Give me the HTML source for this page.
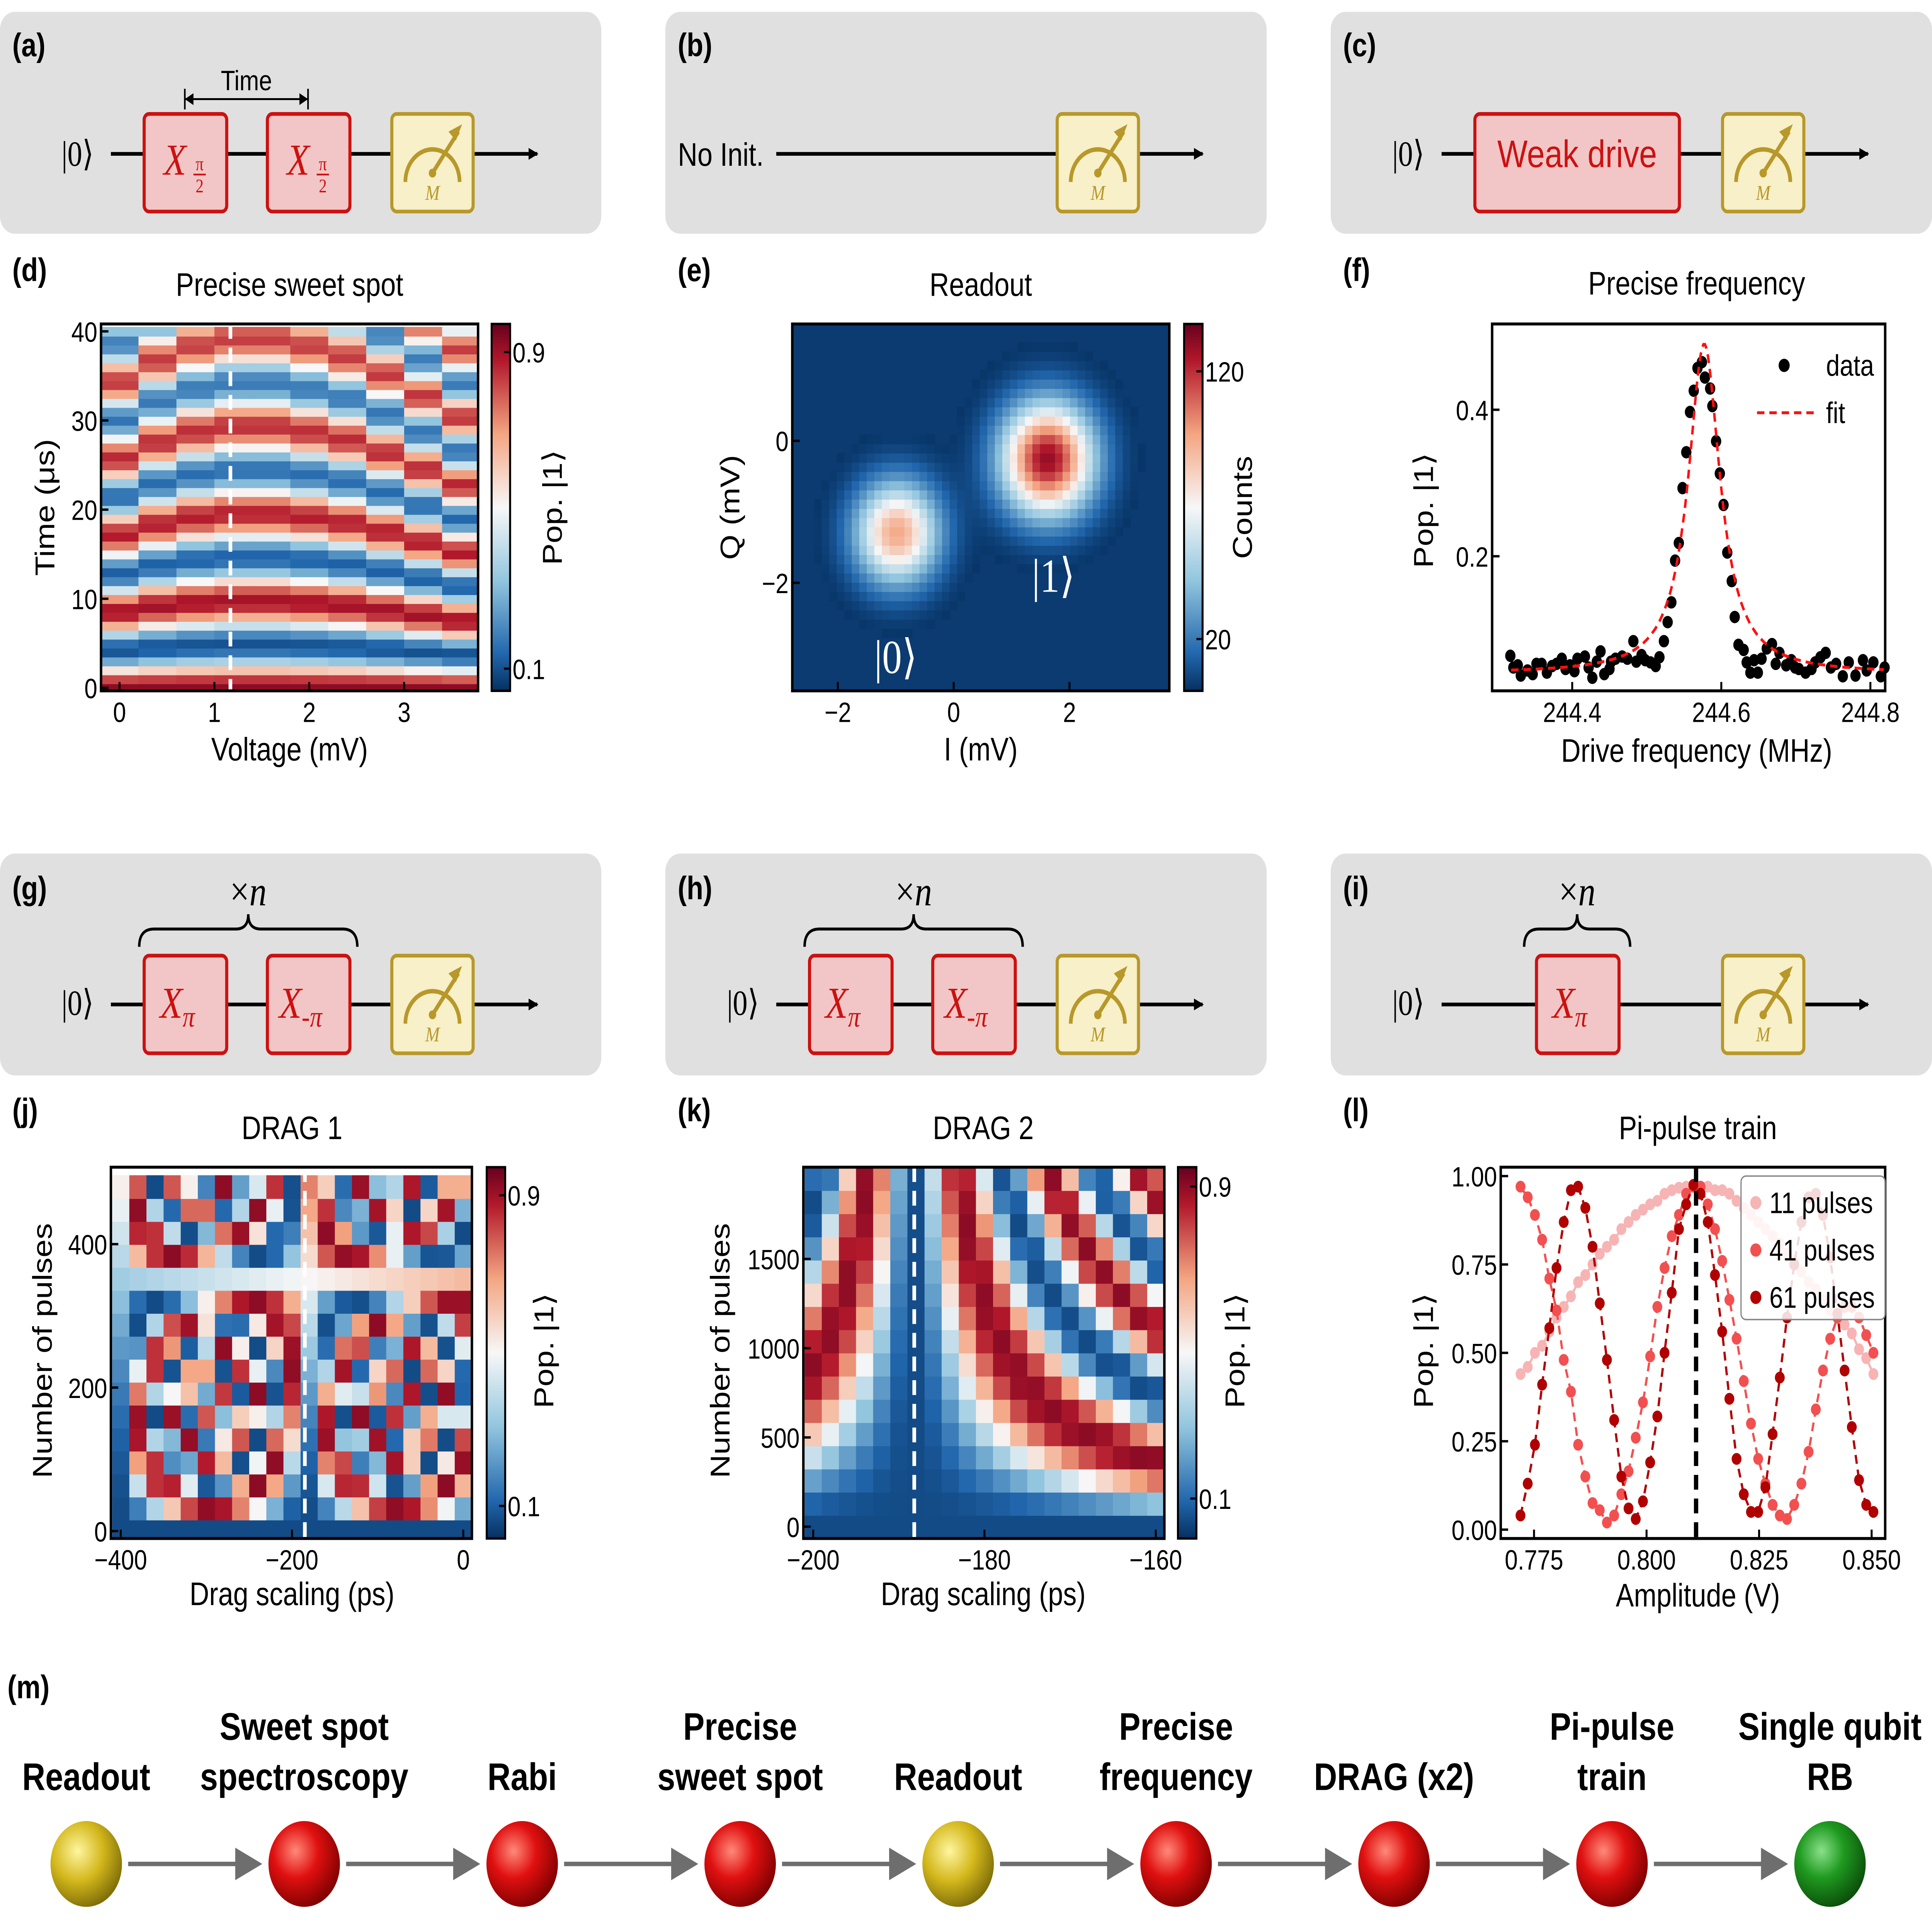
<!DOCTYPE html>
<html><head><meta charset="utf-8"><style>
html,body{margin:0;padding:0;background:#fff;overflow:hidden;width:100vw;height:100vh;}
svg#fig{display:block;width:100vw;height:100vh;}
text{font-family:"Liberation Sans","DejaVu Sans",sans-serif;}
.serif{font-family:"Liberation Serif","DejaVu Serif",serif;}
</style></head><body>
<svg id="fig" xmlns="http://www.w3.org/2000/svg" viewBox="0 0 1568 1306" preserveAspectRatio="none">
<defs>
<radialGradient id="gY" cx="0.38" cy="0.35" r="0.7"><stop offset="0" stop-color="#fff6a0"/><stop offset="0.5" stop-color="#d4b81c"/><stop offset="1" stop-color="#7a6a08"/></radialGradient>
<radialGradient id="gR" cx="0.38" cy="0.35" r="0.7"><stop offset="0" stop-color="#ff8a7a"/><stop offset="0.45" stop-color="#e01010"/><stop offset="1" stop-color="#7a0000"/></radialGradient>
<radialGradient id="gG" cx="0.38" cy="0.35" r="0.7"><stop offset="0" stop-color="#8ae08a"/><stop offset="0.45" stop-color="#1f9a1f"/><stop offset="1" stop-color="#0a4a0a"/></radialGradient>
<linearGradient id="cbRB" x1="0" y1="1" x2="0" y2="0">
<stop offset="0" stop-color="#053061"/><stop offset="0.1" stop-color="#2166ac"/><stop offset="0.3" stop-color="#92c5de"/><stop offset="0.5" stop-color="#f7f7f7"/><stop offset="0.7" stop-color="#f4a582"/><stop offset="0.9" stop-color="#b2182b"/><stop offset="1" stop-color="#67001f"/></linearGradient>
<marker id="arrK" markerWidth="8" markerHeight="8" refX="7" refY="4" orient="auto" markerUnits="userSpaceOnUse"><path d="M0,0 L8,4 L0,8 z" fill="#000"/></marker>
<clipPath id="clipD"><rect x="82" y="219" width="306" height="248"/></clipPath>
<clipPath id="clipE"><rect x="643" y="219" width="306" height="248"/></clipPath>
<clipPath id="clipJ"><rect x="90" y="789" width="293" height="251"/></clipPath>
<clipPath id="clipK"><rect x="652" y="789" width="293" height="251"/></clipPath>
</defs>

<rect x="0" y="8" width="488" height="150" rx="12" fill="#e0e0e0"/>
<rect x="540" y="8" width="488" height="150" rx="12" fill="#e0e0e0"/>
<rect x="1080" y="8" width="488" height="150" rx="12" fill="#e0e0e0"/>
<rect x="0" y="577" width="488" height="150" rx="12" fill="#e0e0e0"/>
<rect x="540" y="577" width="488" height="150" rx="12" fill="#e0e0e0"/>
<rect x="1080" y="577" width="488" height="150" rx="12" fill="#e0e0e0"/>

<g font-weight="bold" font-size="22" fill="#000">
<text x="10" y="38">(a)</text>
<text x="550" y="38">(b)</text>
<text x="1090" y="38">(c)</text>
<text x="10" y="190">(d)</text>
<text x="550" y="190">(e)</text>
<text x="1090" y="190">(f)</text>
<text x="10" y="608">(g)</text>
<text x="550" y="608">(h)</text>
<text x="1090" y="608">(i)</text>
<text x="10" y="758">(j)</text>
<text x="550" y="758">(k)</text>
<text x="1090" y="758">(l)</text>
<text x="6" y="1148">(m)</text>
</g>

<g id="circuits"></g>

<g font-size="22" text-anchor="middle" fill="#000">
<text x="235" y="200">Precise sweet spot</text>
<text x="796" y="200">Readout</text>
<text x="1377" y="199">Precise frequency</text>
<text x="237" y="770">DRAG 1</text>
<text x="798" y="770">DRAG 2</text>
<text x="1378" y="770">Pi-pulse train</text>
<text x="235" y="514">Voltage (mV)</text>
<text x="796" y="514">I (mV)</text>
<text x="1377" y="515">Drive frequency (MHz)</text>
<text x="237" y="1085">Drag scaling (ps)</text>
<text x="798" y="1085">Drag scaling (ps)</text>
<text x="1378" y="1086">Amplitude (V)</text>
<text transform="translate(44,343) rotate(-90)">Time (μs)</text>
<text transform="translate(600,343) rotate(-90)">Q (mV)</text>
<text transform="translate(1163,345) rotate(-90)">Pop. |1⟩</text>
<text transform="translate(456,343) rotate(-90)">Pop. |1⟩</text>
<text transform="translate(1016,343) rotate(-90)">Counts</text>
<text transform="translate(42,913) rotate(-90)">Number of pulses</text>
<text transform="translate(449,913) rotate(-90)">Pop. |1⟩</text>
<text transform="translate(592,913) rotate(-90)">Number of pulses</text>
<text transform="translate(1010,913) rotate(-90)">Pop. |1⟩</text>
<text transform="translate(1163,913) rotate(-90)">Pop. |1⟩</text>
</g>

<g id="plots"></g>

<g id="workflow"></g>
</svg>

<script>
const NS='http://www.w3.org/2000/svg';
function mk(tag,attrs,parent){const e=document.createElementNS(NS,tag);for(const k in attrs)e.setAttribute(k,attrs[k]);parent.appendChild(e);return e;}
function lin(d0,d1,p0,p1){return v=>p0+(v-d0)*(p1-p0)/(d1-d0);}
const stops=[[0,[5,48,97]],[0.1,[33,102,172]],[0.3,[146,197,222]],[0.5,[247,247,247]],[0.7,[244,165,130]],[0.9,[178,24,43]],[1,[103,0,31]]];
function cmap(v){v=Math.max(0,Math.min(1,v));for(let i=1;i<stops.length;i++){if(v<=stops[i][0]){const a=stops[i-1],b=stops[i];const t=(v-a[0])/(b[0]-a[0]);const c=a[1].map((x,j)=>Math.round(x+(b[1][j]-x)*t));return 'rgb('+c.join(',')+')';}}return 'rgb(103,0,31)';}

// ===== DATA =====
const dVolt=[0,0.4,0.8,1.2,1.6,2.0,2.4,2.8,3.2,3.6];
const dTime=[0,1,2,3,4,5,6,7,8,9,10,11,12,13,14,15,16,17,18,19,20,21,22,23,24,25,26,27,28,29,30,31,32,33,34,35,36,37,38,39,40];
const dPeriod=[8.6,9.2,9.6,9.8,9.8,9.6,9.3,8.8,8.2,7.6];
const dXTicks=[0,1,2,3];
const dYTicks=[0,10,20,30,40];
const eCenterI=[-0.98,1.62];
const eCenterQ=[-1.29,-0.25];
const ePeak=[95,130];
const eSigma=[0.5,0.55];
const eXTicks=[-2,0,2];
const eYTicks=[0,-2];
const fFreq=[244.317,244.321,244.327,244.331,244.340,244.347,244.352,244.359,244.366,244.373,244.379,244.386,244.391,244.397,244.403,244.407,244.417,244.422,244.427,244.433,244.438,244.443,244.450,244.452,244.458,244.467,244.474,244.482,244.486,244.493,244.498,244.505,244.512,244.517,244.523,244.528,244.533,244.538,244.543,244.548,244.553,244.558,244.563,244.568,244.574,244.578,244.585,244.588,244.593,244.598,244.603,244.608,244.614,244.618,244.623,244.630,244.634,244.639,244.644,244.649,244.654,244.661,244.668,244.673,244.678,244.687,244.694,244.699,244.704,244.713,244.721,244.726,244.733,244.740,244.747,244.754,244.763,244.771,244.780,244.790,244.795,244.804,244.814,244.819];
const fPop=[0.064,0.048,0.051,0.037,0.044,0.039,0.053,0.053,0.041,0.050,0.053,0.060,0.046,0.051,0.043,0.060,0.063,0.048,0.034,0.056,0.070,0.039,0.046,0.056,0.060,0.063,0.060,0.084,0.056,0.065,0.058,0.055,0.050,0.062,0.084,0.110,0.137,0.194,0.218,0.293,0.342,0.397,0.426,0.457,0.465,0.444,0.429,0.405,0.357,0.313,0.270,0.205,0.166,0.117,0.079,0.072,0.055,0.041,0.058,0.041,0.060,0.074,0.080,0.053,0.068,0.051,0.058,0.048,0.046,0.041,0.046,0.055,0.062,0.068,0.048,0.053,0.036,0.055,0.037,0.058,0.044,0.055,0.036,0.048];
const fFitCenter=[244.577];
const fFitAmp=[0.45];
const fFitWidth=[0.026];
const fFitBase=[0.04];
const fXTicks=[244.4,244.6,244.8];
const fYTicks=[0.2,0.4];
const jDrag=[-400,-380,-360,-340,-320,-300,-280,-260,-240,-220,-200,-180,-160,-140,-120,-100,-80,-60,-40,-20,0];
const jPulses=[0,32,64,96,128,160,192,224,256,288,320,352,384,416,448,480];
const jOptimum=[-185];
const jPeriod=[7000];
const jXTicks=[-400,-200,0];
const jYTicks=[0,200,400];
const kDrag=[-200,-198,-196,-194,-192,-190,-188,-186,-184,-182,-180,-178,-176,-174,-172,-170,-168,-166,-164,-162,-160];
const kPulses=[0,130,260,390,520,650,780,910,1040,1170,1300,1430,1560,1690,1820,1950];
const kOptimum=[-188.3];
const kPeriod=[21000];
const kXTicks=[-200,-180,-160];
const kYTicks=[0,500,1000,1500];
const lAmpStart=0.772, lAmpStep=0.0016;
const l11=[0.44,0.46,0.50,0.52,0.56,0.60,0.63,0.66,0.70,0.72,0.75,0.78,0.80,0.82,0.85,0.87,0.89,0.905,0.92,0.93,0.95,0.96,0.967,0.97,0.975,0.97,0.97,0.96,0.96,0.95,0.93,0.91,0.89,0.87,0.85,0.83,0.81,0.78,0.76,0.73,0.70,0.68,0.65,0.62,0.60,0.58,0.555,0.51,0.485,0.44];
const l41=[0.97,0.94,0.89,0.82,0.71,0.62,0.48,0.39,0.24,0.15,0.075,0.055,0.02,0.04,0.10,0.165,0.26,0.36,0.49,0.63,0.74,0.83,0.89,0.95,0.97,0.97,0.92,0.85,0.76,0.65,0.54,0.42,0.30,0.20,0.13,0.07,0.04,0.03,0.07,0.13,0.22,0.34,0.45,0.54,0.60,0.63,0.63,0.60,0.55,0.50];
const l61=[0.04,0.13,0.24,0.41,0.57,0.74,0.87,0.96,0.97,0.91,0.80,0.64,0.48,0.31,0.15,0.06,0.03,0.08,0.19,0.32,0.50,0.67,0.85,0.92,0.975,0.95,0.87,0.72,0.56,0.37,0.20,0.10,0.05,0.05,0.12,0.27,0.43,0.60,0.75,0.87,0.94,0.95,0.89,0.77,0.61,0.45,0.29,0.14,0.07,0.05];
const lOptimum=[0.811];
const lXTicks=[0.775,0.800,0.825,0.850];
const lYTicks=[0,0.25,0.5,0.75,1.0];
const lLabels=['11 pulses','41 pulses','61 pulses'];
const lColors=['#f7b4b4','#f25050','#b00000'];
const wSteps=[['Readout'],['Sweet spot','spectroscopy'],['Rabi'],['Precise','sweet spot'],['Readout'],['Precise','frequency'],['DRAG (x2)'],['Pi-pulse','train'],['Single qubit','RB']];
const wColors=['gY','gR','gR','gR','gY','gR','gR','gR','gG'];

const plots=document.getElementById('plots');

function frame(x0,y0,x1,y1,name){
  const r=mk('rect',{x:x0,y:y0,width:x1-x0,height:y1-y0,fill:'none',stroke:'#000','stroke-width':2},plots);
  
  
}
function xticks(vals,sx,yb,fmt,name){
  vals.forEach(v=>{const x=sx(v);
    const l=mk('line',{x1:x,x2:x,y1:yb,y2:yb-6,stroke:'#000','stroke-width':1.6},plots);
    
    
    const t=mk('text',{x:x,y:yb+21,'font-size':19,'text-anchor':'middle'},plots);
    t.textContent=fmt(v);
    
    });
}
function yticks(vals,sy,xl,fmt,name){
  vals.forEach(v=>{const y=sy(v);
    const l=mk('line',{x1:xl,x2:xl+6,y1:y,y2:y,stroke:'#000','stroke-width':1.6},plots);
    
    
    const t=mk('text',{x:xl-3,y:y+7,'font-size':19,'text-anchor':'end'},plots);
    t.textContent=fmt(v);
    
    });
}
function colorbar(x,y0,y1,ticks,name){
  const r=mk('rect',{x:x,y:y0,width:15,height:y1-y0,fill:'url(#cbRB)',stroke:'#000','stroke-width':1.6},plots);
  
  
  ticks.forEach(tk=>{
    const l=mk('line',{x1:x+15,x2:x+10,y1:tk[0],y2:tk[0],stroke:'#000','stroke-width':1.5},plots);
    
    
    const t=mk('text',{x:x+17,y:tk[0]+7,'font-size':19},plots);
    t.textContent=tk[1];
    
    });
}

// (d)
(function(){
  const sx=lin(0,1,97,174), sy=lin(0,40,465,224);
  const g=mk('g',{'clip-path':'url(#clipD)'},plots);
  dVolt.forEach((v,ci)=>{dTime.forEach(t=>{
    const val=0.5+0.45*Math.cos(2*Math.PI*t/dPeriod[ci])*Math.exp(-t/150);
    const c=mk('rect',{x:sx(v-0.2),y:sy(t+0.5),width:sx(v+0.2)-sx(v-0.2)+0.5,height:sy(t-0.5)-sy(t+0.5)+0.5,fill:cmap(val)},g);
    
    });});
  const dl=mk('line',{x1:187,x2:187,y1:219,y2:467,stroke:'#fff','stroke-width':3,'stroke-dasharray':'10,6'},plots);
  
  
  frame(82,219,388,467,'axes-d');
  xticks(dXTicks,sx,467,v=>String(v),'x-axis-d');
  yticks(dYTicks,sy,82,v=>String(v),'y-axis-d');
  colorbar(399,219,467,[[238,'0.9'],[452,'0.1']],'colorbar-d');
})();

// (e)
(function(){
  const sx=lin(0,2,774,868), sy=lin(0,-2,298,394);
  const g=mk('g',{'clip-path':'url(#clipE)'},plots);
  const bg=mk('rect',{x:643,y:219,width:306,height:248,fill:cmap(0.02)},g);
  
  
  const step=0.13, cmax=138;
  for(let I=-2.8;I<3.75;I+=step){for(let Q=-3.55;Q<1.7;Q+=step){
    let cnt=0;for(let b=0;b<2;b++){const di=I+step/2-eCenterI[b],dq=Q+step/2-eCenterQ[b];cnt+=ePeak[b]*Math.exp(-(di*di+dq*dq)/(2*eSigma[b]*eSigma[b]));}
    if(cnt<1.5)continue;
    const c=mk('rect',{x:sx(I),y:sy(Q+step),width:sx(I+step)-sx(I)+0.4,height:sy(Q)-sy(Q+step)+0.4,fill:cmap(cnt/cmax)},g);
    
    }}
  frame(643,219,949,467,'axes-e');
  xticks(eXTicks,sx,467,v=>v<0?'−'+Math.abs(v):String(v),'x-axis-e');
  yticks(eYTicks,sy,643,v=>v<0?'−'+Math.abs(v):String(v),'y-axis-e');
  colorbar(961,219,467,[[251,'120'],[432,'20']],'colorbar-e');
  const t0=mk('text',{x:727,y:455,'font-size':32,'text-anchor':'middle',fill:'#fff',class:'serif'},plots);
  t0.textContent='|0⟩';
  
  
  const t1=mk('text',{x:855,y:400,'font-size':32,'text-anchor':'middle',fill:'#fff',class:'serif'},plots);
  t1.textContent='|1⟩';
  
  
})();

// (f)
(function(){
  const sx=lin(244.4,244.6,1276,1397), sy=lin(0.2,0.4,376,277);
  frame(1211,219,1530,467,'axes-f');
  fFreq.forEach((f,i)=>{const c=mk('circle',{cx:sx(f),cy:sy(fPop[i]),r:4.2,fill:'#000'},plots);
    
    });
  let d='';for(let f=244.318;f<=244.82;f+=0.002){const p=fFitBase[0]+fFitAmp[0]/(1+Math.pow((f-fFitCenter[0])/fFitWidth[0],2));d+=(d?'L':'M')+sx(f).toFixed(1)+','+sy(p).toFixed(1);}
  const fit=mk('path',{d:d,fill:'none',stroke:'#ff1010','stroke-width':2,'stroke-dasharray':'6,4'},plots);
  
  
  xticks(fXTicks,sx,467,v=>v.toFixed(1),'x-axis-f');
  yticks(fYTicks,sy,1211,v=>v.toFixed(1),'y-axis-f');
  const ld=mk('circle',{cx:1448,cy:247,r:4.5,fill:'#000'},plots);
  
  
  const lt=mk('text',{x:1482,y:254,'font-size':20},plots);lt.textContent='data';
  
  
  const lf=mk('line',{x1:1426,x2:1472,y1:279,y2:279,stroke:'#ff1010','stroke-width':2,'stroke-dasharray':'6,4'},plots);
  
  
  const lft=mk('text',{x:1482,y:286,'font-size':20},plots);lft.textContent='fit';
  
  
})();

// (j)
(function(){
  const sx=lin(-400,0,98,376), sy=lin(0,400,1035,841);
  const g=mk('g',{'clip-path':'url(#clipJ)'},plots);
  jDrag.forEach(x=>{jPulses.forEach(n=>{
    const val=0.5-0.45*Math.cos(2*Math.PI*n*(x-jOptimum[0])/jPeriod[0]);
    const c=mk('rect',{x:sx(x-10),y:sy(n+16),width:sx(x+10)-sx(x-10)+0.5,height:sy(n-16)-sy(n+16)+0.5,fill:cmap(val)},g);
    
    });});
  const dl=mk('line',{x1:sx(jOptimum[0]),x2:sx(jOptimum[0]),y1:789,y2:1040,stroke:'#fff','stroke-width':3,'stroke-dasharray':'10,6'},plots);
  
  
  frame(90,789,383,1040,'axes-j');
  xticks(jXTicks,sx,1040,v=>v<0?'−'+Math.abs(v):String(v),'x-axis-j');
  yticks(jYTicks,sy,90,v=>String(v),'y-axis-j');
  colorbar(395,789,1040,[[808,'0.9'],[1018,'0.1']],'colorbar-j');
})();

// (k)
(function(){
  const sx=lin(-200,-160,660,938), sy=lin(0,1500,1032,851);
  const g=mk('g',{'clip-path':'url(#clipK)'},plots);
  kDrag.forEach(x=>{kPulses.forEach(n=>{
    const val=0.5-0.45*Math.cos(2*Math.PI*n*(x-kOptimum[0])/kPeriod[0]);
    const c=mk('rect',{x:sx(x-1),y:sy(n+65),width:sx(x+1)-sx(x-1)+0.5,height:sy(n-65)-sy(n+65)+0.5,fill:cmap(val)},g);
    
    });});
  const dl=mk('line',{x1:742,x2:742,y1:789,y2:1040,stroke:'#fff','stroke-width':3,'stroke-dasharray':'10,6'},plots);
  
  
  frame(652,789,945,1040,'axes-k');
  xticks(kXTicks,sx,1040,v=>'−'+Math.abs(v),'x-axis-k');
  yticks(kYTicks,sy,652,v=>String(v),'y-axis-k');
  colorbar(956,789,1040,[[802,'0.9'],[1013,'0.1']],'colorbar-k');
})();

// (l)
(function(){
  const sx=lin(0.775,0.850,1245,1519), sy=lin(0,1,1034,795);
  frame(1218,789,1530,1040,'axes-l');
  [l11,l41,l61].forEach((ser,si)=>{
    let d='';ser.forEach((v,i)=>{const a=lAmpStart+i*lAmpStep;d+=(i?'L':'M')+sx(a).toFixed(1)+','+sy(v).toFixed(1);});
    const p=mk('path',{d:d,fill:'none',stroke:lColors[si],'stroke-width':1.8,'stroke-dasharray':si==0?'none':'6,4'},plots);
    
    
    ser.forEach((v,i)=>{const a=lAmpStart+i*lAmpStep;
      const c=mk('circle',{cx:sx(a),cy:sy(v),r:4,fill:lColors[si]},plots);
      
      });
  });
  const dl=mk('line',{x1:sx(lOptimum[0]),x2:sx(lOptimum[0]),y1:789,y2:1040,stroke:'#000','stroke-width':3.5,'stroke-dasharray':'10,6'},plots);
  
  
  xticks(lXTicks,sx,1040,v=>v.toFixed(3),'x-axis-l');
  yticks(lYTicks,sy,1218,v=>v.toFixed(2),'y-axis-l');
  const lb=mk('rect',{x:1413,y:795,width:117,height:97,rx:4,fill:'#fff','fill-opacity':0.85,stroke:'#888','stroke-width':1},plots);
  
  
  lLabels.forEach((lab,i)=>{const y=813+i*32;
    const m=mk('circle',{cx:1425,cy:y,r:4.5,fill:lColors[i]},plots);
    
    
    const t=mk('text',{x:1436,y:y+7,'font-size':20},plots);t.textContent=lab;
    
    });
})();

// circuits
(function(){
  const C=document.getElementById('circuits');
  function line(x1,x2,y,arrow,name){const l=mk('line',{x1:x1,x2:x2,y1:y,y2:y,stroke:'#000','stroke-width':2.5},C);
    if(arrow)l.setAttribute('marker-end','url(#arrK)');
    
    }
  function ket(x,y,name){const t=mk('text',{x:x,y:y,'font-size':24,'text-anchor':'middle',class:'serif'},C);t.textContent='|0⟩';
    
    }
  function gate(x,w,y,name){const r=mk('rect',{x:x,y:y,width:w,height:66,rx:4,fill:'#f2c6c6',stroke:'#cc1111','stroke-width':2.5},C);
    
    }
  function gtext(cx,y,sub,name){const t=mk('text',{x:cx-6,y:y,'font-size':30,'text-anchor':'middle',fill:'#cc1111',class:'serif','font-style':'italic'},C);
    t.textContent='X';
    const s=mk('tspan',{'font-size':20,dy:6},t);s.textContent=sub;
    
    }
  function gtextHalf(cx,y,name){const g=mk('g',{fill:'#cc1111'},C);
    
    
    const t=mk('text',{x:cx-8,y:y,'font-size':30,'text-anchor':'middle',class:'serif','font-style':'italic'},g);t.textContent='X';
    const a=mk('text',{x:cx+12,y:y-3,'font-size':13,'text-anchor':'middle',class:'serif'},g);a.textContent='π';
    mk('line',{x1:cx+7,x2:cx+17,y1:y,y2:y,stroke:'#cc1111','stroke-width':1.2},g);
    const b=mk('text',{x:cx+12,y:y+12,'font-size':13,'text-anchor':'middle',class:'serif'},g);b.textContent='2';}
  function meter(x,y,name){const g=mk('g',{},C);
    
    
    mk('rect',{x:x,y:y,width:66,height:66,rx:4,fill:'#f7f0c8',stroke:'#b8982a','stroke-width':2.5},g);
    mk('path',{d:'M'+(x+11)+','+(y+46)+' A22,22 0 0 1 '+(x+55)+','+(y+46),fill:'none',stroke:'#b8982a','stroke-width':3},g);
    mk('line',{x1:x+33,y1:y+40,x2:x+54,y2:y+12,stroke:'#b8982a','stroke-width':3},g);
    mk('path',{d:'M'+(x+57)+','+(y+7)+' l-11,5 l6,6 z',fill:'#b8982a'},g);
    mk('circle',{cx:x+33,cy:y+40,r:3,fill:'#b8982a'},g);
    const t=mk('text',{x:x+33,y:y+58,'font-size':14,'text-anchor':'middle',fill:'#b8982a',class:'serif','font-style':'italic'},g);t.textContent='M';}
  function brace(x1,x2,y,name){const m=(x1+x2)/2;
    const p=mk('path',{d:`M${x1},${y+12} Q${x1},${y} ${x1+12},${y} L${m-10},${y} Q${m},${y} ${m},${y-10} Q${m},${y} ${m+10},${y} L${x2-12},${y} Q${x2},${y} ${x2},${y+12}`,fill:'none',stroke:'#000','stroke-width':2},C);
    
    
    const t=mk('text',{x:m,y:y-16,'font-size':28,'text-anchor':'middle',class:'serif'},C);t.textContent='×';
    const s=mk('tspan',{'font-style':'italic'},t);s.textContent='n';
    
    }
  ket(63,112,'ket-0-a'); line(90,436,104,true,'wire-a');
  gate(117,67,77,'gate-x-half-pi-1'); gtextHalf(150,118,'gate-x-half-pi-1-label');
  gate(217,67,77,'gate-x-half-pi-2'); gtextHalf(250,118,'gate-x-half-pi-2-label');
  meter(318,77,'measurement-a');
  const ta=mk('line',{x1:150,x2:250,y1:67,y2:67,stroke:'#000','stroke-width':1.3},C);
  
  
  mk('path',{d:'M150,67 l7,-4 v8 z M250,67 l-7,-4 v8 z',fill:'#000'},C);
  mk('line',{x1:150,x2:150,y1:60,y2:74,stroke:'#000','stroke-width':1.3},C);
  mk('line',{x1:250,x2:250,y1:60,y2:74,stroke:'#000','stroke-width':1.3},C);
  const tt=mk('text',{x:200,y:61,'font-size':19,'text-anchor':'middle'},C);tt.textContent='Time';
  
  
  const nb=mk('text',{x:585,y:112,'font-size':22,'text-anchor':'middle'},C);nb.textContent='No Init.';
  
  
  line(630,976,104,true,'wire-b'); meter(858,77,'measurement-b');
  ket(1143,112,'ket-0-c'); line(1170,1516,104,true,'wire-c');
  gate(1197,166,77,'weak-drive-gate');
  const wd=mk('text',{x:1280,y:113,'font-size':26,'text-anchor':'middle',fill:'#cc1111'},C);wd.textContent='Weak drive';
  
  
  meter(1398,77,'measurement-c');
  ket(63,686,'ket-0-g'); line(90,436,679,true,'wire-g');
  gate(117,67,646,'gate-x-pi-g'); gtext(150,688,'π','gate-x-pi-g-label');
  gate(217,67,646,'gate-x-minus-pi-g'); gtext(250,688,'-π','gate-x-minus-pi-g-label');
  meter(318,646,'measurement-g'); brace(113,290,628,'repeat-brace-g');
  ket(603,686,'ket-0-h'); line(630,976,679,true,'wire-h');
  gate(657,67,646,'gate-x-pi-h'); gtext(690,688,'π','gate-x-pi-h-label');
  gate(757,67,646,'gate-x-minus-pi-h'); gtext(790,688,'-π','gate-x-minus-pi-h-label');
  meter(858,646,'measurement-h'); brace(653,830,628,'repeat-brace-h');
  ket(1143,686,'ket-0-i'); line(1170,1516,679,true,'wire-i');
  gate(1247,67,646,'gate-x-pi-i'); gtext(1280,688,'π','gate-x-pi-i-label');
  meter(1398,646,'measurement-i'); brace(1237,1323,628,'repeat-brace-i');
})();

// (m)
(function(){
  const W=document.getElementById('workflow');
  const x0=70, dx=176.9, cy=1260;
  wSteps.forEach((lines,i)=>{const x=x0+i*dx;
    const c=mk('circle',{cx:x,cy:cy,r:29,fill:'url(#'+wColors[i]+')'},W);
    
    
    lines.forEach((s,j)=>{const y=lines.length==1?1210:1176+j*34;
      const t=mk('text',{x:x,y:y,'font-size':26,'font-weight':'bold','text-anchor':'middle'},W);t.textContent=s;
      
      });
    if(i<wSteps.length-1){
      const l=mk('line',{x1:x+34,x2:x+dx-54,y1:cy,y2:cy,stroke:'#6e6e6e','stroke-width':3},W);
      
      
      const h=mk('path',{d:`M${x+dx-56},${cy-11} L${x+dx-34},${cy} L${x+dx-56},${cy+11} z`,fill:'#6e6e6e'},W);
      
      }
  });
})();
</script>
</body></html>
